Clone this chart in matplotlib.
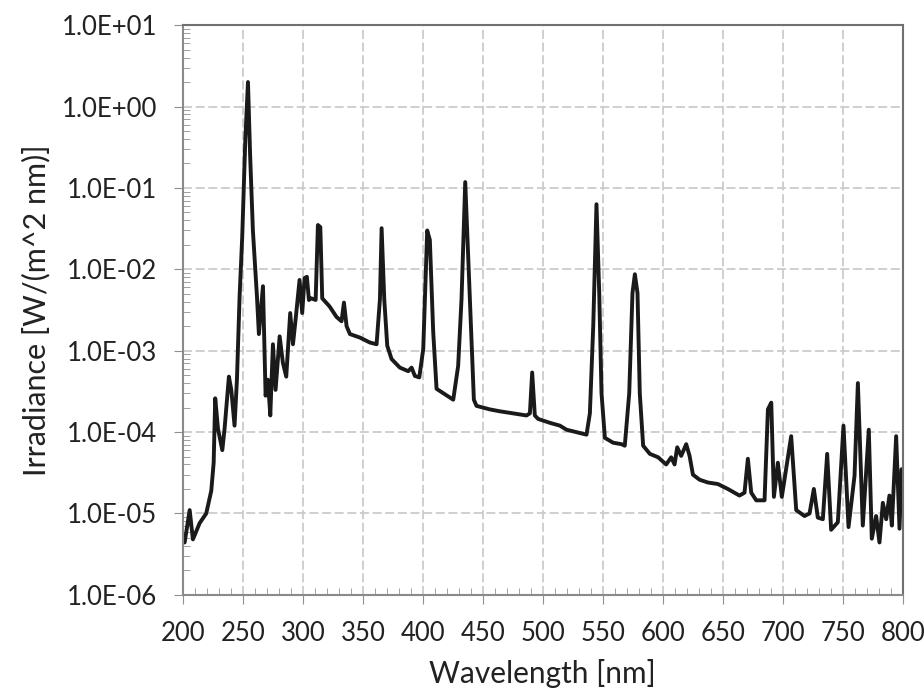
import matplotlib
matplotlib.use("Agg")
import matplotlib.pyplot as plt
from matplotlib.ticker import FuncFormatter, LogLocator, MultipleLocator

plt.rcParams['font.family'] = ['Lato', 'DejaVu Sans']

# wavelength [nm] and irradiance [W/(m^2 nm)]
wavelength = [200, 201.4, 205.6, 208.3, 213.9, 219.4, 223.6, 225.6, 226.9, 229.2,
              232.8, 234.7, 238.3, 240.3, 243, 245, 247.2, 249.4, 252, 254.2,
              256, 258.3, 261.7, 263.3, 266.7, 268.9, 270.8, 272.8, 275, 277.2,
              280.6, 283.3, 286.1, 289.4, 291.7, 294, 297.2, 299.4, 301.4, 303.3,
              305, 306.9, 310.6, 312.5, 314.5, 316.1, 322.2, 328, 332.2, 334.2,
              336.4, 339.2, 347.5, 355.8, 361.4, 364.2, 365.6, 367.8, 370.3, 373.9,
              380.8, 387.8, 390.6, 393.3, 397, 400.3, 403.6, 405.8, 408.6, 411.4,
              417, 425.3, 429.4, 432.2, 435.3, 439.2, 442.5, 444.7, 455.8, 464.2,
              486.4, 489.2, 491.1, 493.3, 496.1, 505.8, 514.2, 519.7, 536.4, 539.2,
              542, 544.7, 547, 548.9, 551.7, 558.6, 565.6, 568.3, 572, 574.7,
              576.7, 578.9, 580.8, 583.6, 589.2, 596.1, 602.8, 607, 609.8, 612,
              615.3, 619.5, 622.3, 625.1, 630.6, 637.6, 645.9, 654.2, 663.9, 668.1,
              670.9, 673.7, 677.9, 684.8, 687.6, 690.4, 692.6, 695.9, 699.2, 707,
              711.2, 718.1, 722.3, 725.9, 729.2, 733.4, 737, 740.3, 745.9, 750.6,
              754.8, 759.8, 762.6, 766.7, 771.7, 774.2, 777.8, 780.6, 783.4, 786.2,
              788.9, 790.9, 794.5, 797.3, 799, 800]
irradiance = [4.5e-6, 4.4e-6, 1.1e-5, 4.8e-6, 7.6e-6, 1.0e-5, 1.9e-5, 4.2e-5, 2.6e-4, 1.1e-4,
              6.0e-5, 1.1e-4, 4.8e-4, 3.3e-4, 1.2e-4, 4.4e-4, 4.6e-3, 2.5e-2, 0.4, 2.0,
              0.25, 3.0e-2, 4.6e-3, 1.6e-3, 6.2e-3, 2.8e-4, 4.4e-4, 1.6e-4, 1.2e-3, 3.3e-4,
              1.5e-3, 7.1e-4, 4.8e-4, 2.9e-3, 1.2e-3, 2.5e-3, 7.4e-3, 2.9e-3, 7.8e-3, 8.1e-3,
              4.2e-3, 4.4e-3, 4.2e-3, 3.5e-2, 3.3e-2, 4.4e-3, 3.5e-3, 2.6e-3, 2.3e-3, 3.9e-3,
              2.0e-3, 1.6e-3, 1.45e-3, 1.26e-3, 1.2e-3, 4.3e-3, 3.2e-2, 4.3e-3, 1.15e-3, 7.9e-4,
              6.2e-4, 5.6e-4, 6.2e-4, 4.9e-4, 4.7e-4, 1.05e-3, 3.0e-2, 2.3e-2, 1.7e-3, 3.4e-4,
              3.0e-4, 2.5e-4, 6.5e-4, 4.3e-3, 0.118, 4.3e-3, 2.5e-4, 2.1e-4, 1.9e-4, 1.8e-4,
              1.6e-4, 1.7e-4, 5.4e-4, 1.6e-4, 1.45e-4, 1.3e-4, 1.2e-4, 1.07e-4, 9.3e-5, 1.7e-4,
              2.0e-3, 6.3e-2, 5.1e-3, 3.0e-4, 8.5e-5, 7.4e-5, 7.1e-5, 6.8e-5, 3.0e-4, 5.1e-3,
              8.7e-3, 5.1e-3, 3.0e-4, 6.8e-5, 5.4e-5, 4.9e-5, 4.0e-5, 4.9e-5, 4.0e-5, 6.5e-5,
              5.1e-5, 7.1e-5, 5.1e-5, 3.0e-5, 2.6e-5, 2.4e-5, 2.3e-5, 2.0e-5, 1.66e-5, 1.8e-5,
              4.7e-5, 1.8e-5, 1.45e-5, 1.45e-5, 1.9e-4, 2.3e-4, 1.6e-5, 4.2e-5, 1.6e-5, 8.9e-5,
              1.1e-5, 9.3e-6, 1.0e-5, 2.0e-5, 8.9e-6, 8.5e-6, 5.4e-5, 6.3e-6, 7.8e-6, 1.2e-4,
              6.8e-6, 2.9e-5, 4.0e-4, 7.1e-6, 1.07e-4, 4.9e-6, 9.3e-6, 4.4e-6, 1.35e-5, 8.5e-6,
              1.66e-5, 7.1e-6, 8.9e-5, 6.5e-6, 3.5e-5, 3.2e-5]

fig = plt.figure(figsize=(9.24, 6.99), dpi=100)
ax = fig.add_axes([0.198, 0.149, 0.779, 0.815])

ax.plot(wavelength, irradiance, color="#1a1a1a", lw=2.8, solid_joinstyle="round")

ax.set_yscale("log")
ax.set_xlim(200, 800)
ax.set_ylim(1e-6, 1e1)
ax.xaxis.set_major_locator(MultipleLocator(50))
ax.xaxis.set_minor_locator(MultipleLocator(10))
ax.yaxis.set_major_locator(LogLocator(base=10, numticks=20))
ax.yaxis.set_minor_locator(LogLocator(base=10, subs=range(2, 10), numticks=20))
ax.yaxis.set_major_formatter(FuncFormatter(lambda v, p: f"{v:.1E}"))
ax.yaxis.set_minor_formatter(FuncFormatter(lambda v, p: ""))

ax.grid(which="major", color="#cccccc", lw=1.3, ls=(0, (5, 2)))
ax.tick_params(which="major", direction="out", length=6.5, color="#909090",
               labelsize=18.5, labelcolor="#222222")
ax.tick_params(axis="y", which="major", pad=12)
ax.tick_params(axis="x", which="major", pad=12)
ax.tick_params(which="minor", direction="in", length=5, color="#909090")
for s in ax.spines.values():
    s.set_color("#8a8a8a")
    s.set_linewidth(1.5)
ax.spines["top"].set_color("#707070")
ax.spines["right"].set_color("#707070")

ax.set_xlabel("Wavelength [nm]", fontsize=21.5, color="#222222", labelpad=10)
ax.set_ylabel("Irradiance [W/(m^2 nm)]", fontsize=22, color="#222222", labelpad=8)

fig.savefig("out.png", dpi=100)
